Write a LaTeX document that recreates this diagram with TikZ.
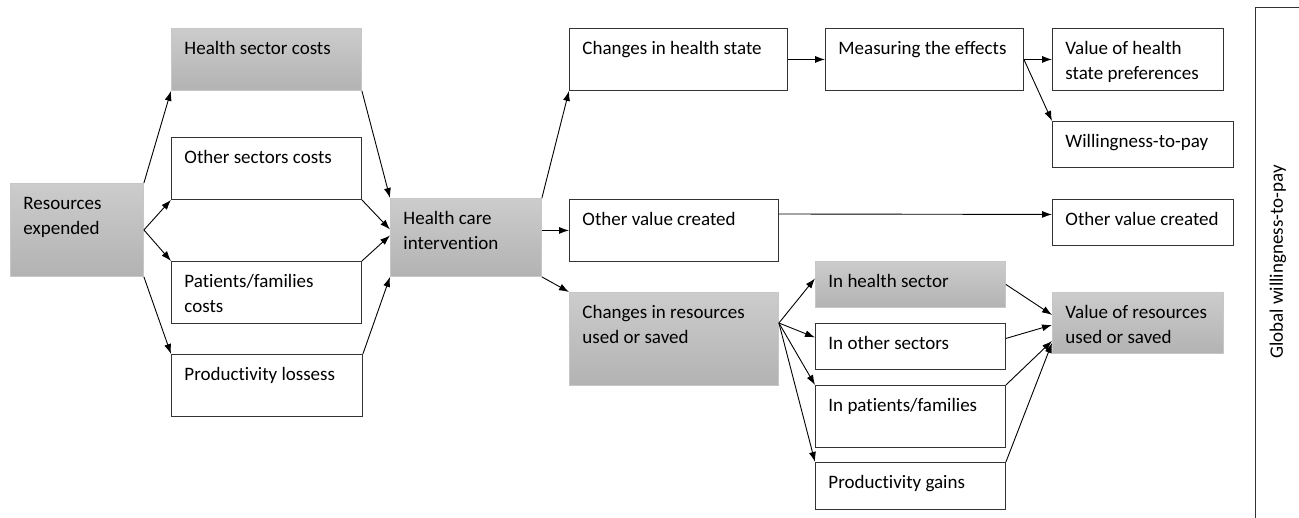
\documentclass[tikz,border=0pt]{standalone}
\usepackage{fontspec}
\setmainfont{Carlito}[Ligatures=NoCommon]
\usepackage{xcolor}
\usetikzlibrary{arrows.meta}
\newcommand{\bodyfont}{\fontsize{19}{24.5}\selectfont}
\newcommand{\cell}[3]{\parbox[t][\dimexpr#2pt-18pt][t]{\dimexpr#1pt-26pt}{\raggedright\strut#3}}

\begin{document}
\begin{tikzpicture}[x=1pt, y=-1pt,
  stage/.style={draw=black!80, line width=0.9pt, anchor=north west, inner xsep=13pt, inner ysep=9pt, font=\bodyfont},
  shaded/.style={stage, draw=black!22, top color=black!20, bottom color=black!30},
  arrow/.style={-{Latex[length=10pt,width=7pt]}, line width=0.9pt}]

\useasboundingbox (0,0) rectangle (1299,518);

% costs side
\node (re) at (10,183) [shaded]{\cell{133}{93}{Resources\\expended}};
\node (hsc) at (171,28) [shaded]{\cell{190}{62}{Health sector costs}};
\node (osc) at (171,137) [stage]{\cell{190}{62}{Other sectors costs}};
\node (pfc) at (171,261) [stage]{\cell{190}{62}{Patients/families\\costs}};
\node (pl) at (171,354) [stage]{\cell{191}{62}{Productivity lossess}};
\node (hci) at (390,198) [shaded]{\cell{151}{78}{Health care\\intervention}};

% consequences
\node (chs) at (569,28) [stage]{\cell{218}{62}{Changes in health state}};
\node (ovc) at (569,199) [stage]{\cell{209}{62}{Other value created}};
\node (crus) at (569,292) [shaded]{\cell{209}{93}{Changes in resources\\used or saved}};
\node (mte) at (825,28) [stage]{\cell{198}{62}{Measuring the effects}};
\node (ihs) at (815,261) [shaded]{\cell{190}{46}{In health sector}};
\node (ios) at (815,323) [stage]{\cell{190}{46}{In other sectors}};
\node (ipf) at (815,385) [stage]{\cell{190}{62}{In patients/families}};
\node (pg) at (815,462) [stage]{\cell{190}{47}{Productivity gains}};

% values
\node (vhsp) at (1052,28) [stage]{\cell{171}{62}{Value of health\\state preferences}};
\node (wtp) at (1052,121) [stage]{\cell{181}{46}{Willingness-to-pay}};
\node (ovc2) at (1052,199) [stage]{\cell{181}{46}{Other value created}};
\node (vrus) at (1052,292) [shaded]{\cell{171}{61}{Value of resources\\used or saved}};

\draw[black!80, line width=0.9pt] (1255,518) |- (1299,7);
\node (gwtp) at (1278,262) [rotate=90, font=\bodyfont]{Global willingness-to-pay};

\coordinate (fan) at ([yshift=-31pt]crus.north east);

\draw[arrow] (re.north east) -- (hsc.south west);
\draw[arrow] (re.east) -- (osc.south west);
\draw[arrow] (re.east) -- (pfc.north west);
\draw[arrow] (re.south east) -- (pl.north west);
\draw[arrow] (hsc.south east) -- (hci.north west);
\draw[arrow] (osc.south east) -- ([yshift=8pt]hci.west);
\draw[arrow] (pfc.north east) -- ([yshift=2pt]hci.west);
\draw[arrow] (pl.north east) -- (hci.south west);

\draw[arrow] (hci.north east) -- (chs.south west);
\draw[arrow] (hci.east |- ovc.west) -- (ovc.west);
\draw[arrow] (hci.south east) -- (crus.north west);
\draw[arrow] (chs.east) -- (mte.west);
\draw[arrow] (mte.east) -- (vhsp.west);
\draw[arrow] (mte.east) -- (wtp.north west);
\draw[arrow] (ovc.north east) ++(0,15) -- ([yshift=8pt]ovc2.west);

\draw[arrow] (fan) -- ([yshift=6pt]ihs.west);
\draw[arrow] (fan) -- ([yshift=9pt]ios.west);
\draw[arrow] (fan) -- (ipf.north west);
\draw[arrow] (fan) -- (pg.north west);
\draw[arrow] (ihs.east) -- ([yshift=8pt]vrus.west);
\draw[arrow] ([yshift=8pt]ios.east) -- ([yshift=-2pt]vrus.west);
\draw[arrow] (ipf.north east) -- ([yshift=-18pt]vrus.west);
\draw[arrow] (pg.north east) -- ([yshift=-20pt]vrus.west);

\end{tikzpicture}
\end{document}
